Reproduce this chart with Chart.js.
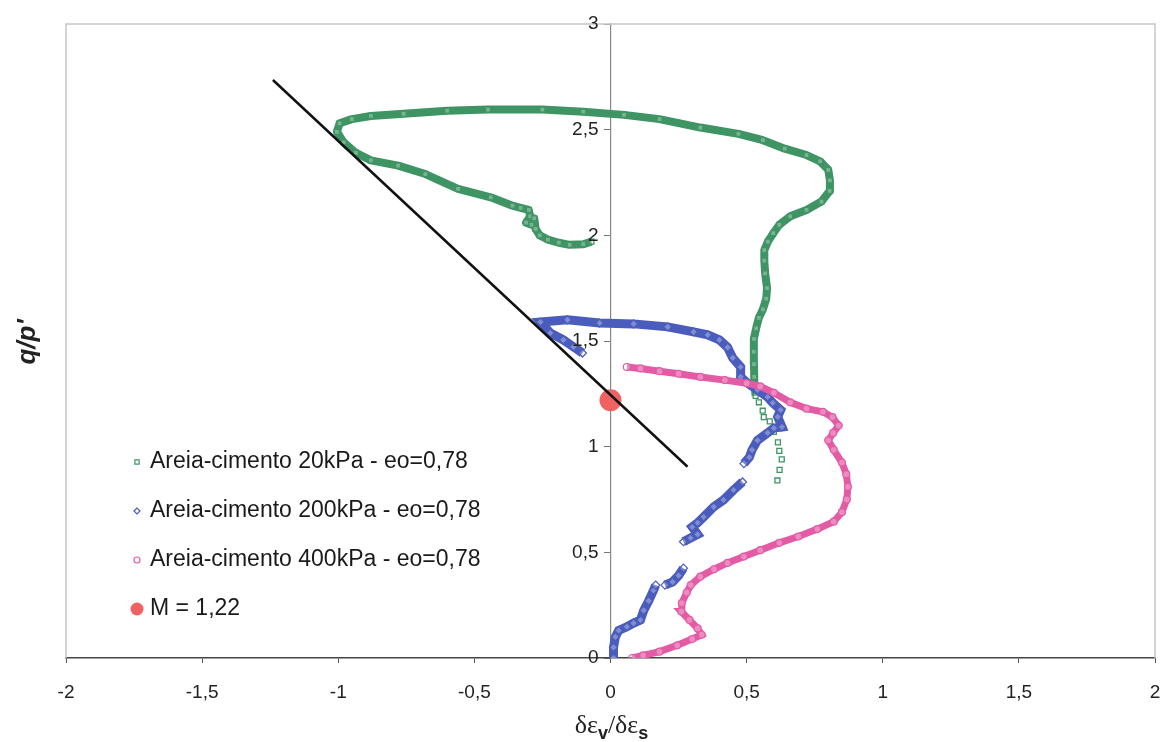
<!DOCTYPE html>
<html>
<head>
<meta charset="utf-8">
<script src="https://cdn.jsdelivr.net/npm/chart.js@4.4.1/dist/chart.umd.min.js"></script>
<style>
  html, body { margin: 0; padding: 0; background: #fff; }
  canvas { display: block; }
</style>
</head>
<body>
<canvas id="c" width="1161" height="742"></canvas>
<script>
// Stress ratio q/p' against dilatancy dεv/dεs, cemented sand, three confining pressures.

const seriesNames = [
  'Areia-cimento 20kPa - eo=0,78',
  'Areia-cimento 200kPa - eo=0,78',
  'Areia-cimento 400kPa - eo=0,78'
];

// Critical state stress ratio
const M = 1.22;

// 20 kPa: first readings are sparse (single markers), then a continuous record
const green20Start = [
  [0.613, 0.84], [0.621, 0.89], [0.629, 0.94], [0.620, 0.98], [0.615, 1.02],
  [0.600, 1.07], [0.585, 1.12], [0.563, 1.14], [0.559, 1.17], [0.545, 1.21]
];
const green20 = [
  [0.533, 1.24], [0.530, 1.28], [0.528, 1.33], [0.527, 1.39], [0.526, 1.45],
  [0.527, 1.51], [0.535, 1.56], [0.545, 1.61], [0.560, 1.65], [0.572, 1.70],
  [0.575, 1.75], [0.568, 1.82], [0.565, 1.88], [0.565, 1.93], [0.578, 1.97],
  [0.598, 2.01], [0.620, 2.05], [0.660, 2.09], [0.720, 2.12], [0.775, 2.16],
  [0.805, 2.21], [0.806, 2.26], [0.800, 2.31], [0.770, 2.35], [0.720, 2.38],
  [0.640, 2.41], [0.560, 2.45], [0.470, 2.48], [0.330, 2.51], [0.180, 2.55],
  [0.050, 2.57], [-0.100, 2.585], [-0.250, 2.595], [-0.450, 2.595], [-0.600, 2.59],
  [-0.760, 2.575], [-0.880, 2.565], [-0.950, 2.55], [-0.995, 2.53], [-1.005, 2.49],
  [-0.980, 2.44], [-0.935, 2.39], [-0.880, 2.355], [-0.780, 2.33], [-0.680, 2.29],
  [-0.560, 2.22], [-0.440, 2.18], [-0.360, 2.14], [-0.330, 2.13], [-0.300, 2.12],
  [-0.295, 2.09], [-0.310, 2.06], [-0.290, 2.05], [-0.280, 2.08], [-0.275, 2.03],
  [-0.260, 2.00], [-0.230, 1.98], [-0.190, 1.965], [-0.150, 1.955], [-0.100, 1.958],
  [-0.070, 1.97]
];

// 200 kPa (null = break in the record)
const blue200 = [
  [0.011, 0.00], [0.011, 0.05], [0.018, 0.10], [0.030, 0.13], [0.060, 0.148],
  [0.085, 0.165], [0.110, 0.18], [0.122, 0.225], [0.140, 0.27], [0.158, 0.32],
  [0.166, 0.345], null,
  [0.200, 0.345], [0.228, 0.36], [0.250, 0.39], [0.268, 0.425], null,
  [0.268, 0.55], [0.294, 0.568], [0.320, 0.585], [0.300, 0.62], [0.320, 0.64],
  [0.342, 0.667], [0.379, 0.715], [0.415, 0.748], [0.452, 0.795], [0.485, 0.833], null,
  [0.490, 0.92], [0.510, 0.95], [0.520, 0.985], [0.540, 1.03], [0.577, 1.065],
  [0.600, 1.088], [0.630, 1.093], [0.614, 1.141], [0.625, 1.174], [0.596, 1.207],
  [0.577, 1.235], [0.540, 1.268], [0.504, 1.30], [0.478, 1.33], [0.478, 1.377],
  [0.449, 1.42], [0.430, 1.47], [0.400, 1.505], [0.357, 1.529], [0.305, 1.543],
  [0.210, 1.567], [0.085, 1.581], [-0.040, 1.585], [-0.158, 1.60], [-0.257, 1.59],
  [-0.221, 1.538], [-0.173, 1.505], [-0.136, 1.472], [-0.103, 1.443]
];

// 400 kPa
const pink400 = [
  [0.080, 0.00], [0.120, 0.012], [0.180, 0.03], [0.245, 0.06], [0.300, 0.09],
  [0.335, 0.11], [0.320, 0.14], [0.290, 0.18], [0.260, 0.22], [0.262, 0.26],
  [0.280, 0.31], [0.295, 0.345], [0.330, 0.385], [0.380, 0.42], [0.430, 0.45],
  [0.490, 0.48], [0.550, 0.51], [0.620, 0.545], [0.690, 0.575], [0.760, 0.61],
  [0.820, 0.645], [0.850, 0.69], [0.868, 0.75], [0.872, 0.81], [0.866, 0.87],
  [0.850, 0.925], [0.820, 0.985], [0.800, 1.03], [0.818, 1.065], [0.838, 1.10],
  [0.815, 1.14], [0.780, 1.165], [0.720, 1.18], [0.660, 1.21], [0.600, 1.255],
  [0.550, 1.285], [0.500, 1.30], [0.420, 1.315], [0.330, 1.33], [0.250, 1.345],
  [0.180, 1.357], [0.110, 1.37], [0.060, 1.377]
];

// Critical state line
const cslLine = [[-1.24, 2.735], [0.283, 0.905]];

const toXY = arr => arr.map(p => p ? { x: p[0], y: p[1] } : { x: null, y: null });
const comma = v => String(v).replace('.', ',');

const GREEN = '#3f9464', BLUE = '#4a5cbc', PINK = '#e35aa5', RED = '#f06262';
const FONT = "'Liberation Sans', Arial, sans-serif";
const SERIF = "'Liberation Serif', 'DejaVu Serif', serif";

const datasets = [
  { label: 'csl', data: toXY(cslLine), showLine: true, borderColor: '#111', borderWidth: 2.5,
    pointRadius: 0, order: 0 },
  { label: 'M = ' + comma(M), data: toXY([[0, M]]), pointRadius: 11, pointStyle: 'circle',
    backgroundColor: RED, borderColor: RED, borderWidth: 0, order: 1 },
  { label: seriesNames[2], data: toXY(pink400), showLine: true, borderColor: PINK, borderWidth: 7,
    pointStyle: 'circle', pointRadius: 3.5, pointBorderColor: PINK, pointBackgroundColor: 'rgba(255,255,255,0.3)',
    pointBorderWidth: 1.2, order: 2 },
  { label: seriesNames[1], data: toXY(blue200), showLine: true, spanGaps: false, borderColor: BLUE, borderWidth: 9,
    pointStyle: 'rectRot', pointRadius: 4, pointBorderColor: BLUE, pointBackgroundColor: 'rgba(255,255,255,0.3)',
    pointBorderWidth: 1.2, order: 3 },
  { label: seriesNames[0], data: toXY(green20), showLine: true, borderColor: GREEN, borderWidth: 8,
    borderJoinStyle: 'round',
    pointStyle: 'rect', pointRadius: 3.5, pointBorderColor: GREEN, pointBackgroundColor: 'rgba(255,255,255,0.3)',
    pointBorderWidth: 1.2, order: 4 },
  { label: seriesNames[0] + ' (início)', data: toXY(green20Start), showLine: false,
    pointStyle: 'rect', pointRadius: 3.5, pointBorderColor: GREEN, pointBackgroundColor: '#fff',
    pointBorderWidth: 1.3, order: 4 }
];

// Frame, y tick labels, axis titles and the in-plot legend
const decor = {
  id: 'decor',
  beforeDatasetsDraw(chart) {
    const { ctx, chartArea: a } = chart;
    ctx.save();
    ctx.strokeStyle = '#c6c6c6';
    ctx.lineWidth = 1.5;
    ctx.beginPath();
    ctx.moveTo(a.left, a.bottom);
    ctx.lineTo(a.left, a.top);
    ctx.lineTo(a.right, a.top);
    ctx.lineTo(a.right, a.bottom);
    ctx.stroke();
    ctx.restore();
  },
  afterDraw(chart) {
    const { ctx } = chart;
    const xs = chart.scales.x, ys = chart.scales.y;
    ctx.save();
    ctx.fillStyle = '#222';

    // y tick labels, to the left of the centred axis
    ctx.font = '19px ' + FONT;
    ctx.textAlign = 'right';
    ctx.textBaseline = 'middle';
    const axisX = xs.getPixelForValue(0);
    ys.ticks.forEach(t => ctx.fillText(comma(t.value), axisX - 12, ys.getPixelForValue(t.value)));

    // y title
    ctx.save();
    ctx.translate(28, 342);
    ctx.rotate(-Math.PI / 2);
    ctx.font = 'bold italic 26px ' + FONT;
    ctx.textAlign = 'center';
    ctx.textBaseline = 'middle';
    ctx.fillText("q/p'", 0, 0);
    ctx.restore();

    // x title with subscripts
    const parts = [
      { t: 'δε', f: '26px ' + SERIF, dy: 0 },
      { t: 'v', f: 'bold 18px ' + FONT, dy: 6 },
      { t: '/δε', f: '26px ' + SERIF, dy: 0 },
      { t: 's', f: 'bold 18px ' + FONT, dy: 6 }
    ];
    let w = 0;
    parts.forEach(p => { ctx.font = p.f; p.w = ctx.measureText(p.t).width; w += p.w; });
    let x = axisX + 1 - w / 2;
    ctx.textAlign = 'left';
    ctx.textBaseline = 'alphabetic';
    parts.forEach(p => { ctx.font = p.f; ctx.fillText(p.t, x, 733 + p.dy); x += p.w; });

    // legend
    const items = [4, 3, 2, 1];
    const rowY = [462, 511, 560, 609];
    ctx.font = '23px ' + FONT;
    ctx.textBaseline = 'middle';
    items.forEach((di, i) => {
      const ds = chart.data.datasets[di];
      const y = rowY[i];
      if (di === 1) {
        ctx.fillStyle = RED;
        ctx.beginPath(); ctx.arc(137, y, 6.5, 0, Math.PI * 2); ctx.fill();
      } else {
        ctx.strokeStyle = ds.pointBorderColor;
        ctx.fillStyle = '#fff';
        ctx.lineWidth = 1.2;
        Chart.helpers.drawPoint(ctx, { pointStyle: ds.pointStyle, radius: 3, borderWidth: 1.2, rotation: 0 }, 137, y);
      }
      ctx.fillStyle = '#1a1a1a';
      ctx.fillText(ds.label, 150, y);
    });
    ctx.restore();
  }
};

new Chart(document.getElementById('c'), {
  type: 'scatter',
  data: { datasets },
  options: {
    responsive: false,
    animation: false,
    devicePixelRatio: 1,
    layout: { autoPadding: false, padding: { left: 66, right: 6, top: 24, bottom: 0 } },
    plugins: { legend: { display: false }, tooltip: { enabled: false } },
    elements: { line: { tension: 0 } },
    scales: {
      x: {
        type: 'linear', min: -2, max: 2, position: 'bottom',
        afterFit: s => { s.height = 84; s.paddingLeft = 0; s.paddingRight = 0; },
        ticks: { stepSize: 0.5, padding: 18, color: '#222', font: { family: FONT, size: 19 }, callback: comma },
        grid: { drawOnChartArea: false, tickLength: 5, color: '#555' },
        border: { color: '#444', width: 1.5 }
      },
      y: {
        type: 'linear', min: 0, max: 3, position: { x: 0 },
        afterFit: s => { s.width = 0; s.paddingTop = 0; s.paddingBottom = 0; },
        ticks: { display: false, stepSize: 0.5 },
        grid: { drawOnChartArea: false, tickLength: 6, color: '#777' },
        border: { color: '#888', width: 1.2 }
      }
    }
  },
  plugins: [decor]
});
</script>
</body>
</html>
